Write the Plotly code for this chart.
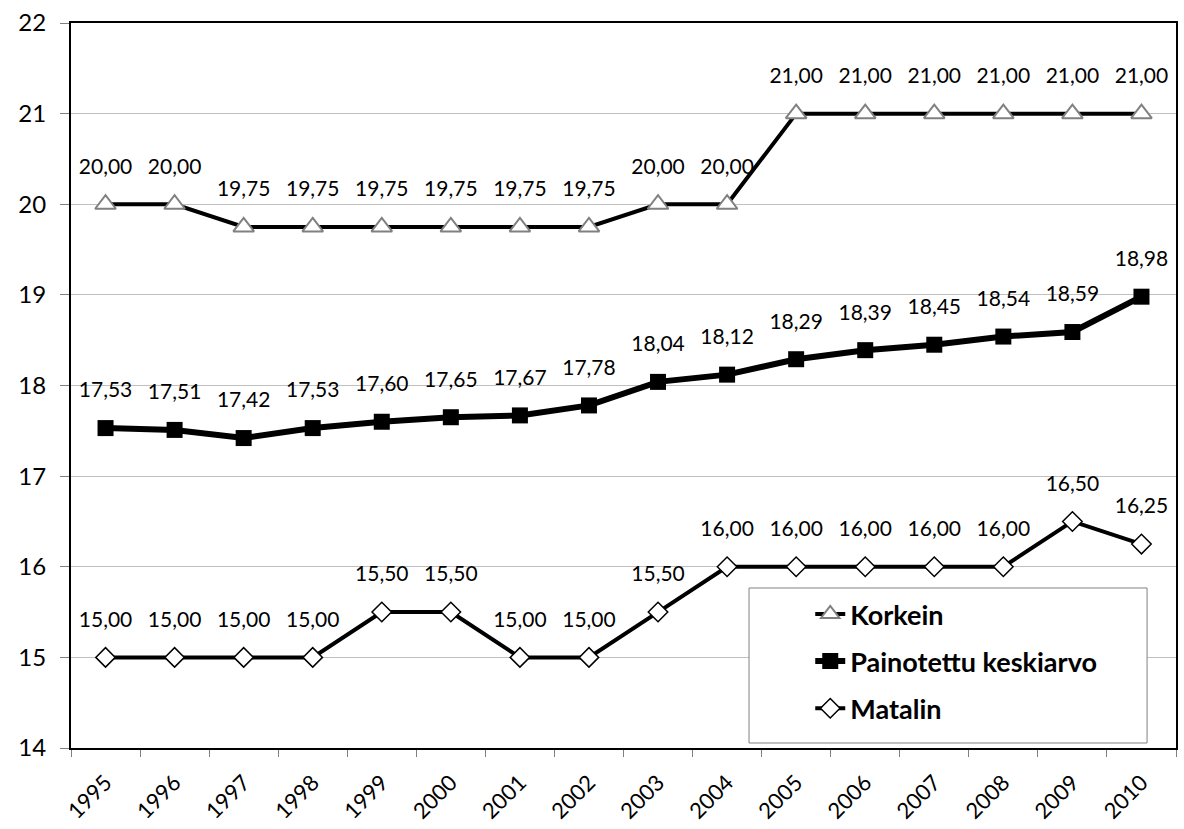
import plotly.graph_objects as go

years = [str(y) for y in range(1995, 2011)]
korkein = [20.00, 20.00, 19.75, 19.75, 19.75, 19.75, 19.75, 19.75,
           20.00, 20.00, 21.00, 21.00, 21.00, 21.00, 21.00, 21.00]
keskiarvo = [17.53, 17.51, 17.42, 17.53, 17.60, 17.65, 17.67, 17.78,
             18.04, 18.12, 18.29, 18.39, 18.45, 18.54, 18.59, 18.98]
matalin = [15.00, 15.00, 15.00, 15.00, 15.50, 15.50, 15.00, 15.00,
           15.50, 16.00, 16.00, 16.00, 16.00, 16.00, 16.50, 16.25]

FONT = 'Lato, "Open Sans", sans-serif'
LABEL_FONT = dict(family=FONT, size=21, color='black')

fig = go.Figure()

series = [
    ('Korkein', korkein, 4,
     dict(symbol='triangle-up', size=18, color='white', line=dict(color='#808080', width=2))),
    ('Painotettu keskiarvo', keskiarvo, 6,
     dict(symbol='square', size=16, color='black')),
    ('Matalin', matalin, 4,
     dict(symbol='diamond', size=15, color='white', line=dict(color='black', width=1.5))),
]

for i, (name, vals, lw, marker) in enumerate(series):
    fig.add_trace(go.Scatter(
        x=years, y=vals, name=name, legendgroup=str(i),
        mode='lines+markers',
        line=dict(color='black', width=lw),
        marker=marker,
    ))
    # data labels, lifted with an invisible marker
    fig.add_trace(go.Scatter(
        x=years, y=vals, showlegend=False, hoverinfo='skip',
        mode='markers+text',
        marker=dict(size=39, opacity=0),
        text=vals, texttemplate='%{y:.2f}', textposition='top center',
        textfont=LABEL_FONT, cliponaxis=False,
    ))

fig.add_shape(
    type='rect', xref='paper', yref='paper',
    x0=0.6136, x1=0.9738, y0=0.0069, y1=0.2207,
    fillcolor='white', line=dict(color='#808080', width=1), layer='above',
)

fig.update_layout(
    width=1184, height=829,
    margin=dict(l=71, r=8, t=23, b=81),
    paper_bgcolor='white', plot_bgcolor='white',
    separators=', ',
    font=dict(family=FONT, color='black'),
    showlegend=True,
    legend=dict(
        x=0.669, y=0.218, xanchor='left', yanchor='top',
        bgcolor='rgba(0,0,0,0)', borderwidth=0,
        font=dict(family=FONT, size=27, color='black', weight='bold'),
        tracegroupgap=9, itemwidth=30,
    ),
    xaxis=dict(
        type='category', range=[-0.5, len(years) - 0.5],
        showgrid=False, automargin=False,
        showline=True, linecolor='black', linewidth=2, mirror=True,
        ticks='outside', tickson='boundaries', ticklen=7, tickcolor='#808080',
        tickangle=-45, ticklabelstandoff=11,
        tickfont=dict(family=FONT, size=22),
    ),
    yaxis=dict(
        range=[14, 22], dtick=1, automargin=False,
        showgrid=True, gridcolor='#c0c0c0', gridwidth=1,
        showline=True, linecolor='black', linewidth=2, mirror=True,
        ticks='outside', ticklen=9, tickcolor='#808080',
        ticklabelstandoff=9,
        tickfont=dict(family=FONT, size=24), zeroline=False,
    ),
)

fig.write_html("out.html", config={'displayModeBar': False},
               post_script="document.body.style.margin='0';")
